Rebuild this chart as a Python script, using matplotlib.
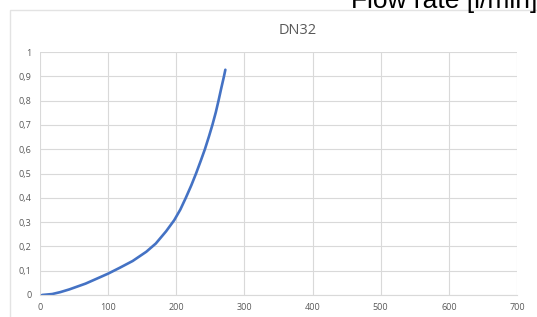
import matplotlib
matplotlib.use("Agg")
import matplotlib.pyplot as plt
import matplotlib.patches as patches
from matplotlib.ticker import FuncFormatter

# Curve
flow = [3, 18, 30, 43, 67, 88, 100, 117, 136, 156, 170, 185, 197, 206, 214, 222,
        229, 236, 242, 248, 253, 258, 262, 266, 270, 272]
value = [0, 0.004, 0.012, 0.023, 0.047, 0.073, 0.088, 0.112, 0.14, 0.178, 0.212, 0.262, 0.308, 0.352, 0.4, 0.451,
         0.5, 0.553, 0.6, 0.653, 0.7, 0.752, 0.8, 0.851, 0.9, 0.927]
x_ticks = [0, 100, 200, 300, 400, 500, 600, 700]
y_ticks = [0, 0.1, 0.2, 0.3, 0.4, 0.5, 0.6, 0.7, 0.8, 0.9, 1]

plt.rcParams['font.family'] = ['Open Sans', 'DejaVu Sans']
W, H = 537, 317
fig = plt.figure(figsize=(W / 100, H / 100), dpi=100)

# chart border (runs off the right and bottom edges)
fig.add_artist(patches.Rectangle((10 / W, -0.1), 1.2, 1 - 10 / H + 0.1, transform=fig.transFigure,
                                 facecolor='white', edgecolor='#e3e3e3', linewidth=1, zorder=-5))

ax = fig.add_axes([40 / W, 1 - 295 / H, (517 - 40) / W, (295 - 52) / H])
ax.set_facecolor('none')
ax.plot(flow, value, color='#4472c4', linewidth=1.9, solid_capstyle='round', solid_joinstyle='round')

ax.set_xlim(0, 700)
ax.set_ylim(0, 1)
ax.set_xticks(x_ticks)
ax.set_yticks(y_ticks)
ax.yaxis.set_major_formatter(FuncFormatter(lambda v, p: ('%g' % round(v, 1)).replace('.', ',')))
ax.grid(True, color='#d9d9d9', linewidth=0.8)
ax.set_axisbelow(True)
for s in ['top', 'right', 'left']:
    ax.spines[s].set_visible(False)
ax.spines['bottom'].set_color('#d9d9d9')
ax.tick_params(length=0, labelsize=6.5, labelcolor='#595959', pad=6)

fig.text(298 / W, 1 - 30 / H, 'DN32', ha='center', va='center', fontsize=10.5, color='#595959')
fig.text(351 / W, 1 - 8 / H, 'Flow rate [l/min]', ha='left', va='baseline', fontsize=19,
         color='black', family=['Liberation Sans', 'DejaVu Sans'])

fig.savefig('out.png', dpi=100)
